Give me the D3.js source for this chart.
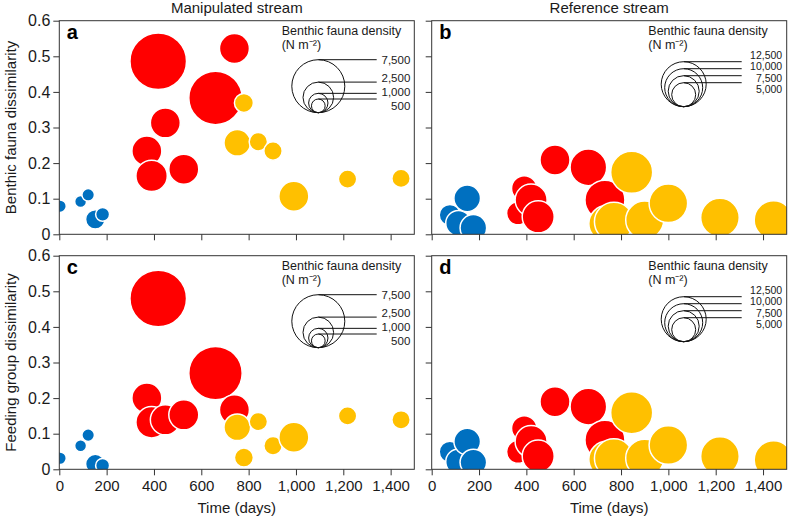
<!DOCTYPE html>
<html>
<head>
<meta charset="utf-8">
<script src="https://cdn.jsdelivr.net/npm/d3@7"></script>
<style>
body { margin: 0; background: #fff; }
svg { display: block; font-family: "Liberation Sans", Arial, Helvetica, sans-serif; }
</style>
</head>
<body>
<svg id="chart"></svg>
<script>
// phase of each sample: 0 = blue, 1 = red, 2 = yellow
const phaseColors = ['#0070c0', '#ff0000', '#ffc000'];

const xTicks = [0, 200, 400, 600, 800, 1000, 1200, 1400];
const yTicks = [0, 0.1, 0.2, 0.3, 0.4, 0.5, 0.6];

// Manipulated stream
const manipDays    = [3, 90, 122, 152, 183, 370, 390, 418, 448, 526, 660, 740, 752, 780, 841, 903, 991, 1218, 1444];
const manipPhase   = [0, 0, 0, 0, 0, 1, 1, 1, 1, 1, 1, 1, 2, 2, 2, 2, 2, 2, 2];
const manipDensity = [420, 380, 420, 1000, 520, 2400, 2630, 8550, 2400, 2400, 7610, 2400, 1890, 960, 900, 900, 2400, 900, 900];
const manipBenthic = [0.079, 0.092, 0.111, 0.042, 0.056, 0.234, 0.164, 0.486, 0.313, 0.183, 0.383, 0.522, 0.257, 0.369, 0.26, 0.234, 0.107, 0.155, 0.157];
const manipFeeding = [0.031, 0.066, 0.096, 0.015, 0.011, 0.20, 0.132, 0.48, 0.139, 0.153, 0.27, 0.167, 0.118, 0.033, 0.134, 0.066, 0.09, 0.15, 0.139];
const manipLegend  = [7500, 2500, 1000, 500];

// Reference stream
const refDays    = [77, 113, 150, 176, 365, 391, 420, 450, 521, 662, 732, 740, 770, 845, 900, 1000, 1218, 1444];
const refPhase   = [0, 0, 0, 0, 1, 1, 1, 1, 1, 1, 1, 2, 2, 2, 2, 2, 2, 2];
const refDensity = [4070, 5500, 5930, 5930, 4640, 5500, 7860, 7860, 7140, 9500, 10700, 9290, 10360, 11430, 10000, 10200, 10200, 10200];
const refBenthic = [0.054, 0.031, 0.101, 0.018, 0.059, 0.129, 0.096, 0.049, 0.209, 0.188, 0.096, 0.03, 0.035, 0.174, 0.04, 0.087, 0.047, 0.04];
const refFeeding = [0.049, 0.021, 0.078, 0.019, 0.049, 0.115, 0.078, 0.037, 0.19, 0.176, 0.082, 0.028, 0.031, 0.159, 0.031, 0.068, 0.037, 0.026];
const refLegend  = [12500, 10000, 7500, 5000];

function rows(days, vals, dens, phase) {
    return days.map((d, i) => ({ day: d, value: vals[i], density: dens[i], phase: phase[i] }));
}

// push legend labels apart so they do not overlap
function spread(ys, gap) {
    const out = ys.slice();
    for (let k = 0; k < 60; k++) {
        for (let i = 1; i < out.length; i++) {
            const d = out[i] - out[i - 1];
            if (d < gap) {
                out[i - 1] -= (gap - d) / 2;
                out[i] += (gap - d) / 2;
            }
        }
    }
    return out;
}

class BubblePanel {

    constructor( config, data ) {
        this.config = {
            parent: config.parent,
            id: config.id,
            left: config.left,
            top: config.top,
            width: config.width,
            height: config.height,
            letter: config.letter,
            size: config.size,
            legendValues: config.legendValues,
            legend: config.legend,
            xLabels: config.xLabels || false,
            yLabels: config.yLabels || false
        }
        this.data = data;
        this.init();
    }

    init() {
        let self = this;
        const c = self.config;

        self.g = c.parent.append('g')
            .attr('transform', `translate(${c.left}, ${c.top})`);

        self.xscale = d3.scaleLinear().domain([0, 1500]).range([0, c.width]);
        self.yscale = d3.scaleLinear().domain([0, 0.6]).range([c.height, 0]);

        self.g.append('clipPath')
            .attr('id', 'clip-' + c.id)
            .append('rect')
            .attr('width', c.width)
            .attr('height', c.height);

        self.render();
    }

    render() {
        let self = this;
        const c = self.config;

        self.g.append('g')
            .attr('clip-path', `url(#clip-${c.id})`)
            .selectAll('circle')
            .data(self.data)
            .join('circle')
            .attr('cx', d => self.xscale(d.day))
            .attr('cy', d => self.yscale(d.value))
            .attr('r', d => c.size(d.density))
            .attr('fill', d => phaseColors[d.phase])
            .attr('stroke', 'white')
            .attr('stroke-width', 1.5);

        const xaxis = d3.axisBottom(self.xscale)
            .tickValues(xTicks)
            .tickSize(6)
            .tickPadding(5)
            .tickFormat(c.xLabels ? d3.format(',') : '');
        const yaxis = d3.axisLeft(self.yscale)
            .tickValues(yTicks)
            .tickSize(6)
            .tickPadding(3)
            .tickFormat(c.yLabels ? d3.format('.1~f') : '');

        const xg = self.g.append('g')
            .attr('transform', `translate(0, ${c.height})`)
            .call(xaxis);
        const yg = self.g.append('g').call(yaxis);

        [xg, yg].forEach(a => {
            a.select('.domain').remove();
            a.selectAll('line').attr('stroke', '#333');
            a.selectAll('text')
                .attr('fill', '#1a1a1a')
                .style('font-family', '"Liberation Sans", Arial, sans-serif');
        });
        xg.selectAll('text').style('font-size', '15px');
        yg.selectAll('text').style('font-size', '16px');

        self.g.append('rect')
            .attr('width', c.width)
            .attr('height', c.height)
            .attr('fill', 'none')
            .attr('stroke', '#333')
            .attr('stroke-width', 1);

        self.g.append('text')
            .attr('x', 7.5)
            .attr('y', 18.5)
            .style('font-size', '20px')
            .style('font-weight', 'bold')
            .text(c.letter);

        self.legend();
    }

    legend() {
        let self = this;
        const c = self.config;
        const L = c.legend;

        const lg = self.g.append('g');

        lg.append('text')
            .attr('x', L.textX)
            .attr('y', 14.3)
            .style('font-size', '12.5px')
            .attr('fill', '#1a1a1a')
            .text('Benthic fauna density');

        lg.append('text')
            .attr('x', L.textX)
            .attr('y', 28.6)
            .style('font-size', '12.5px')
            .attr('fill', '#1a1a1a')
            .text('(N m\u207B\u00B2)');

        const tops = c.legendValues.map(v => L.bottom - 2 * c.size(v));
        const labelY = spread(tops, L.gap);

        lg.selectAll('circle')
            .data(c.legendValues)
            .join('circle')
            .attr('cx', L.cx)
            .attr('cy', v => L.bottom - c.size(v))
            .attr('r', v => c.size(v))
            .attr('fill', 'none')
            .attr('stroke', '#111')
            .attr('stroke-width', 1);

        lg.selectAll('line')
            .data(c.legendValues)
            .join('line')
            .attr('x1', L.cx)
            .attr('x2', L.lineEnd)
            .attr('y1', (v, i) => tops[i])
            .attr('y2', (v, i) => tops[i])
            .attr('stroke', '#111')
            .attr('stroke-width', 1);

        lg.selectAll('text.lab')
            .data(c.legendValues)
            .join('text')
            .attr('class', 'lab')
            .attr('x', L.labelRight)
            .attr('y', (v, i) => labelY[i])
            .attr('dy', '0.35em')
            .attr('text-anchor', 'end')
            .style('font-size', L.fontSize)
            .attr('fill', '#1a1a1a')
            .text(v => d3.format(',')(v));
    }
}

const width = 788, height = 518;
const svg = d3.select('#chart')
    .attr('width', width)
    .attr('height', height);

const manipSize = d3.scaleSqrt().domain([0, 7500]).range([0, 26.5]);
const refSize = d3.scaleLinear().domain([5000, 12500]).range([12, 22.5]);

const pw = 355, ph = 213.6;
const col = [59.3, 431.7], row = [20.7, 255.7];

const manipLeg = { textX: 222.4, cx: 259, bottom: 92, lineEnd: 317.4, labelRight: 351, gap: 14, fontSize: '11.5px' };
const refLeg = { textX: 216.6, cx: 252, bottom: 86, lineEnd: 310, labelRight: 350.5, gap: 11.3, fontSize: '10.5px' };

new BubblePanel({ parent: svg, id: 'a', left: col[0], top: row[0], width: pw, height: ph, letter: 'a',
    size: manipSize, legendValues: manipLegend, legend: manipLeg, yLabels: true },
    rows(manipDays, manipBenthic, manipDensity, manipPhase));
new BubblePanel({ parent: svg, id: 'b', left: col[1], top: row[0], width: pw, height: ph, letter: 'b',
    size: refSize, legendValues: refLegend, legend: refLeg },
    rows(refDays, refBenthic, refDensity, refPhase));
new BubblePanel({ parent: svg, id: 'c', left: col[0], top: row[1], width: pw, height: ph, letter: 'c',
    size: manipSize, legendValues: manipLegend, legend: manipLeg, yLabels: true, xLabels: true },
    rows(manipDays, manipFeeding, manipDensity, manipPhase));
new BubblePanel({ parent: svg, id: 'd', left: col[1], top: row[1], width: pw, height: ph, letter: 'd',
    size: refSize, legendValues: refLegend, legend: refLeg, xLabels: true },
    rows(refDays, refFeeding, refDensity, refPhase));

// titles and axis labels
svg.append('text')
    .attr('x', col[0] + pw / 2).attr('y', 13)
    .attr('text-anchor', 'middle')
    .style('font-size', '15px').attr('fill', '#1a1a1a')
    .text('Manipulated stream');
svg.append('text')
    .attr('x', col[1] + pw / 2).attr('y', 13)
    .attr('text-anchor', 'middle')
    .style('font-size', '15px').attr('fill', '#1a1a1a')
    .text('Reference stream');

svg.append('text')
    .attr('transform', `translate(15.5, ${row[0] + ph / 2}) rotate(-90)`)
    .attr('text-anchor', 'middle')
    .style('font-size', '15px').attr('fill', '#1a1a1a')
    .text('Benthic fauna dissimilarity');
svg.append('text')
    .attr('transform', `translate(15.5, ${row[1] + ph / 2}) rotate(-90)`)
    .attr('text-anchor', 'middle')
    .style('font-size', '15px').attr('fill', '#1a1a1a')
    .text('Feeding group dissimilarity');

[col[0], col[1]].forEach(x0 => {
    svg.append('text')
        .attr('x', x0 + pw / 2).attr('y', 512.5)
        .attr('text-anchor', 'middle')
        .style('font-size', '15px').attr('fill', '#1a1a1a')
        .text('Time (days)');
});
</script>
</body>
</html>
